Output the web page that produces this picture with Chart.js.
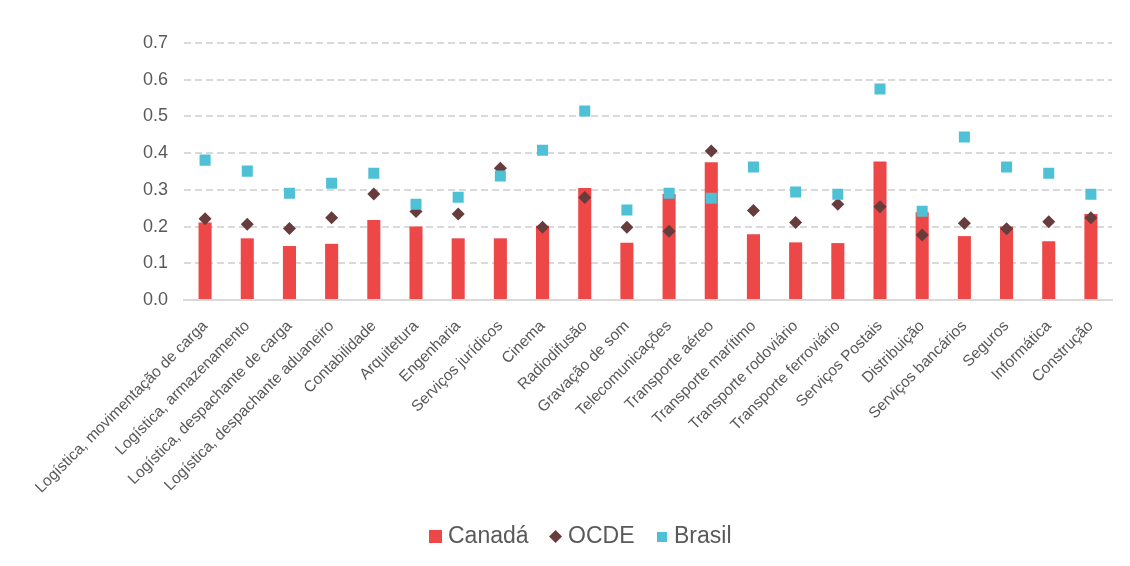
<!DOCTYPE html>
<html>
<head>
<meta charset="utf-8">
<script src="https://cdn.jsdelivr.net/npm/chart.js@4.4.1/dist/chart.umd.min.js"></script>
<style>
  html, body { margin: 0; padding: 0; background: #fff; }
  #wrap { width: 1130px; height: 566px; }
</style>
</head>
<body>
<div id="wrap"><canvas id="servicos"></canvas></div>
<script>
const categorias = [
  'Logística, movimentação de carga',
  'Logística, armazenamento',
  'Logística, despachante de carga',
  'Logística, despachante aduaneiro',
  'Contabilidade',
  'Arquitetura',
  'Engenharia',
  'Serviços jurídicos',
  'Cinema',
  'Radiodifusão',
  'Gravação de som',
  'Telecomunicações',
  'Transporte aéreo',
  'Transporte marítimo',
  'Transporte rodoviário',
  'Transporte ferroviário',
  'Serviços Postais',
  'Distribuição',
  'Serviços bancários',
  'Seguros',
  'Informática',
  'Construção'
];

const canada = [0.211, 0.168, 0.147, 0.153, 0.218, 0.200, 0.168, 0.168, 0.202, 0.305, 0.156,
                0.289, 0.375, 0.179, 0.157, 0.155, 0.377, 0.239, 0.174, 0.200, 0.160, 0.234];
const ocde   = [0.221, 0.206, 0.195, 0.224, 0.289, 0.241, 0.234, 0.359, 0.198, 0.279, 0.198,
                0.187, 0.406, 0.244, 0.211, 0.261, 0.254, 0.177, 0.209, 0.194, 0.213, 0.224];
const brasil = [0.381, 0.351, 0.291, 0.318, 0.345, 0.261, 0.280, 0.338, 0.408, 0.515, 0.245,
                0.291, 0.277, 0.362, 0.294, 0.288, 0.575, 0.242, 0.444, 0.362, 0.345, 0.288];

const yMax = 0.7;
const yStep = 0.1;

const TEXT = '#595959';
const GRID = '#d9d9d9';
const FONT = "'Liberation Sans', Arial, sans-serif";
const RED = '#ee4748';
const BROWN = '#673c3c';
const CYAN = '#4fc1d6';

// small canvases used as legend markers, so each can have its own size
function marker(size, color, diamond) {
  const c = document.createElement('canvas');
  c.width = size; c.height = size;
  const g = c.getContext('2d');
  g.fillStyle = color;
  if (diamond) {
    g.beginPath();
    g.moveTo(size / 2, 0);
    g.lineTo(size, size / 2);
    g.lineTo(size / 2, size);
    g.lineTo(0, size / 2);
    g.closePath();
    g.fill();
  } else {
    g.fillRect(0, 0, size, size);
  }
  return c;
}
const legendMarks = [marker(13, RED, false), marker(13, BROWN, true), marker(10, CYAN, false)];

// nudge the legend a little to the right of the canvas centre
const legendShift = {
  id: 'legendShift',
  afterLayout(chart) {
    chart.legend.left += 27;
    chart.legend.right += 27;
  }
};

new Chart(document.getElementById('servicos'), {
  type: 'bar',
  data: {
    labels: categorias,
    datasets: [
      {
        label: 'Canadá',
        data: canada,
        backgroundColor: RED,
        borderWidth: 0,
        barPercentage: 0.31,
        categoryPercentage: 1,
        order: 3
      },
      {
        type: 'line',
        label: 'OCDE',
        data: ocde,
        showLine: false,
        pointStyle: 'rectRot',
        pointRadius: 6.5,
        pointHoverRadius: 6.5,
        backgroundColor: BROWN,
        borderColor: BROWN,
        pointBorderWidth: 0,
        order: 2
      },
      {
        type: 'line',
        label: 'Brasil',
        data: brasil,
        showLine: false,
        pointStyle: 'rect',
        pointRadius: 7.8,
        pointHoverRadius: 7.8,
        backgroundColor: CYAN,
        borderColor: CYAN,
        pointBorderWidth: 0,
        order: 1
      }
    ]
  },
  plugins: [legendShift],
  options: {
    responsive: true,
    maintainAspectRatio: false,
    animation: false,
    layout: { padding: { top: 43, right: 18, bottom: 8, left: 0 } },
    plugins: {
      tooltip: { enabled: false },
      legend: {
        position: 'bottom',
        labels: {
          usePointStyle: true,
          pointStyleWidth: 2,
          boxHeight: 13,
          padding: 26,
          color: TEXT,
          font: { family: FONT, size: 23 },
          generateLabels(chart) {
            const items = Chart.defaults.plugins.legend.labels.generateLabels(chart);
            items.sort((a, b) => a.datasetIndex - b.datasetIndex);
            items.forEach(it => {
              it.pointStyle = legendMarks[it.datasetIndex];
              it.lineWidth = 0;
            });
            return items;
          }
        }
      }
    },
    scales: {
      x: {
        grid: { display: false, drawTicks: false },
        border: { display: true, color: GRID, width: 2 },
        ticks: {
          autoSkip: false,
          minRotation: 45,
          maxRotation: 45,
          padding: 17,
          color: TEXT,
          font: { family: FONT, size: 15.5 }
        },
        afterFit(scale) { scale.height = 199; }
      },
      y: {
        min: 0,
        max: yMax,
        grid: { color: GRID, lineWidth: 2, drawTicks: false },
        border: { display: false, dash: [7, 4] },
        ticks: {
          stepSize: yStep,
          padding: 16,
          color: TEXT,
          font: { family: FONT, size: 18 },
          callback: v => v.toFixed(1)
        },
        afterFit(scale) { scale.width = 184; }
      }
    }
  }
});
</script>
</body>
</html>
